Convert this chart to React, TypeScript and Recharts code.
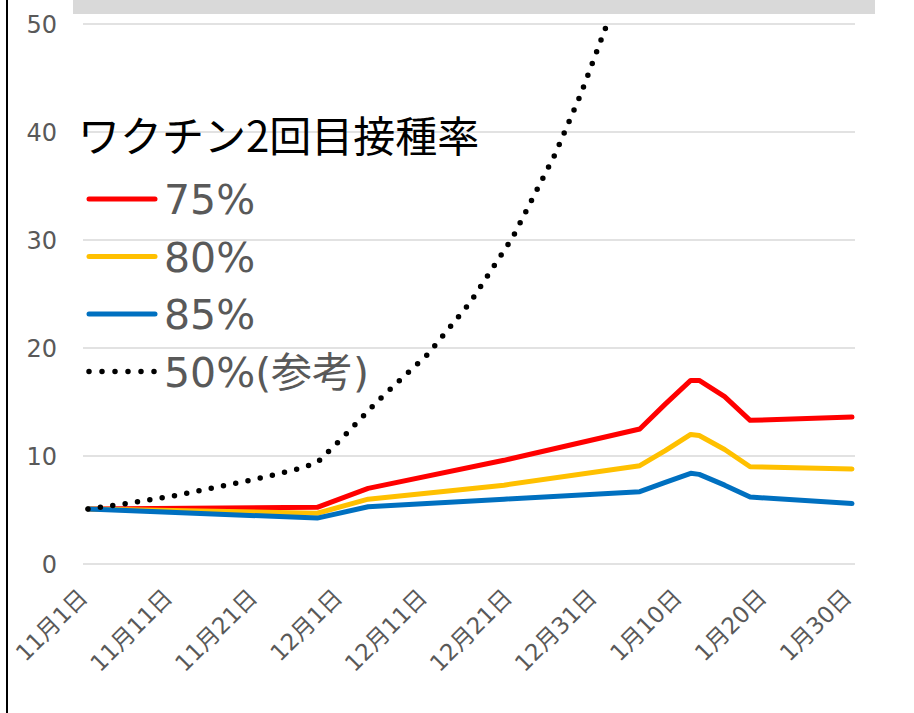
import { CartesianGrid, Line, LineChart, XAxis, YAxis } from "recharts";

// days counted from 11/1
const lineDays = [0, 27, 33, 49, 65, 68, 71, 72, 75, 78, 90];
const rate75 = [5.1, 5.25, 7.0, 9.6, 12.5, 14.8, 17.0, 17.0, 15.5, 13.3, 13.6];
const rate80 = [5.1, 4.7, 6.0, 7.3, 9.1, 10.5, 12.0, 11.9, 10.6, 9.0, 8.8];
const rate85 = [5.1, 4.25, 5.3, 6.0, 6.7, 7.55, 8.4, 8.3, 7.3, 6.2, 5.6];

const refDays = [0, 5, 10, 15, 20, 25, 27, 30, 34, 40, 45, 50, 55, 58, 61, 63];
const rate50 = [5.1, 5.65, 6.3, 7.1, 7.9, 8.85, 9.4, 11.7, 15.0, 19.4, 24.2, 30.2, 37.9, 43.4, 49.7, 53.5];

const xTicks = [0, 10, 20, 30, 40, 50, 60, 70, 80, 90];
const xLabels = ["11月1日", "11月11日", "11月21日", "12月1日", "12月11日", "12月21日", "12月31日", "1月10日", "1月20日", "1月30日"];
const yTicks = [0, 10, 20, 30, 40, 50];

const legendTitle = "ワクチン2回目接種率";

const series = [
  { key: "r75", name: "75%", color: "#FF0000", dotted: false },
  { key: "r80", name: "80%", color: "#FFC000", dotted: false },
  { key: "r85", name: "85%", color: "#0070C0", dotted: false },
  { key: "r50", name: "50%(参考)", color: "#000000", dotted: true },
];

const FONT = "'Noto Sans CJK JP', 'Noto Sans', sans-serif";
const NUM_FONT = "'DejaVu Sans', 'Noto Sans CJK JP', sans-serif";
const GRAY = "#595959";

function buildData() {
  const rows = new Map<number, any>();
  const get = (d: number) => {
    if (!rows.has(d)) rows.set(d, { day: d });
    return rows.get(d);
  };
  lineDays.forEach((d, i) => {
    const r = get(d);
    r.r75 = rate75[i];
    r.r80 = rate80[i];
    r.r85 = rate85[i];
  });
  refDays.forEach((d, i) => {
    get(d).r50 = rate50[i];
  });
  return Array.from(rows.values()).sort((a, b) => a.day - b.day);
}

const data = buildData();

function renderXTick({ x, y, payload }: any) {
  const i = xTicks.indexOf(payload.value);
  const ax = x + 1;
  const ay = y + 35;
  return (
    <text
      x={ax}
      y={ay}
      transform={`rotate(-45 ${ax} ${ay})`}
      textAnchor="end"
      fill={GRAY}
      style={{ fontSize: 23, fontFamily: NUM_FONT }}
    >
      {xLabels[i]}
    </text>
  );
}

function renderYTick({ y, payload }: any) {
  return (
    <text
      x={57}
      y={y}
      dy={9}
      textAnchor="end"
      fill={GRAY}
      style={{ fontSize: 24, fontFamily: NUM_FONT }}
    >
      {payload.value}
    </text>
  );
}

function LegendOverlay() {
  return (
    <svg width={914} height={713} style={{ position: "absolute", left: 0, top: 0, pointerEvents: "none" }}>
      <text x={78} y={152} fontSize={42} fill="#000" fontFamily={FONT}>
        {legendTitle}
      </text>
      {series.map((s, i) => {
        const cy = 199 + i * 57.5;
        return (
          <g key={s.key}>
            <line
              x1={89}
              x2={155}
              y1={cy}
              y2={cy}
              stroke={s.color}
              strokeWidth={s.dotted ? 5.5 : 5}
              strokeLinecap="round"
              strokeDasharray={s.dotted ? "0 13" : undefined}
            />
            <text x={164} y={cy + 15} fontSize={41} fill={GRAY} fontFamily={NUM_FONT}>
              {s.name}
            </text>
          </g>
        );
      })}
    </svg>
  );
}

export default function App() {
  return (
    <div
      style={{
        position: "absolute",
        left: 0,
        top: 0,
        width: 914,
        height: 713,
        background: "#fff",
        overflow: "hidden",
        fontFamily: FONT,
      }}
    >
      <div style={{ position: "absolute", left: 6, top: 0, width: 2, height: 713, background: "#000" }} />
      <div style={{ position: "absolute", left: 73, top: 0, width: 802, height: 14, background: "#D9D9D9" }} />
      <LineChart width={914} height={713} data={data} margin={{ top: 24, right: 59, bottom: 0, left: 0 }}>
        <CartesianGrid vertical={false} stroke="#D9D9D9" strokeWidth={1.5} />
        <XAxis
          dataKey="day"
          type="number"
          domain={[0, 90]}
          ticks={xTicks}
          padding={{ left: 5, right: 3 }}
          height={149}
          axisLine={false}
          tickLine={false}
          tickSize={0}
          tickMargin={0}
          interval={0}
          tick={renderXTick}
        />
        <YAxis
          type="number"
          domain={[0, 50]}
          ticks={yTicks}
          allowDataOverflow
          width={83}
          axisLine={false}
          tickLine={false}
          tick={renderYTick}
        />
        {series.map((s) => (
          <Line
            key={s.key}
            type="linear"
            dataKey={s.key}
            name={s.name}
            stroke={s.color}
            strokeWidth={s.dotted ? 5.5 : 5}
            strokeLinecap="round"
            strokeLinejoin="round"
            strokeDasharray={s.dotted ? "0 12.5" : undefined}
            dot={false}
            activeDot={false}
            connectNulls
            isAnimationActive={false}
          />
        ))}
      </LineChart>
      <LegendOverlay />
    </div>
  );
}
